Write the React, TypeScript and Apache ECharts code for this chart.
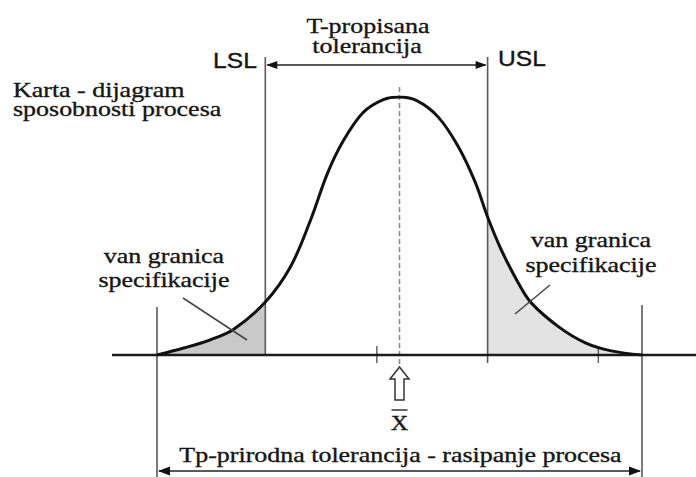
import React, { useEffect, useRef } from "react";
import * as echarts from "echarts";

// Process values in sigma units (mean = 0), relative density (peak = 1)
const curveX = [-3.0, -2.67, -2.35, -2.05, -1.66, -1.35, -1.1, -0.89, -0.69, -0.45, -0.2, 0, 0.22, 0.48, 0.73, 0.94, 1.09, 1.26, 1.47, 1.63, 1.97, 2.3, 2.62, 3.0];
const curveY = [0, 0.027, 0.058, 0.1, 0.205, 0.341, 0.523, 0.705, 0.833, 0.94, 0.99, 1.0, 0.985, 0.922, 0.806, 0.667, 0.535, 0.407, 0.279, 0.202, 0.109, 0.047, 0.016, 0];

const LSL = -1.66;
const USL = 1.09;
const MEAN = 0;
const NAT_LOW = -3;
const NAT_HIGH = 3;
const baseTicks = [-0.28, 2.46];

const titleLines = ["Karta - dijagram", "sposobnosti procesa"];
const tolLines = ["T-propisana", "tolerancija"];
const outLines = ["van granica", "specifikacije"];
const lslLabel = "LSL";
const uslLabel = "USL";
const meanLabel = "X";
const bottomLabel = "Tp-prirodna tolerancija - rasipanje procesa";

const SERIF = "'Liberation Serif', 'DejaVu Serif', serif";
const SANS = "'Liberation Sans', Arial, sans-serif";

export default function App() {
  const ref = useRef<HTMLDivElement>(null);
  useEffect(() => {
    if (!ref.current) return;
    const chart = echarts.init(ref.current, undefined, { renderer: "svg" });
    const all = curveX.map((x, i) => [x, curveY[i]]);
    const leftPart = all.filter((p) => p[0] <= LSL + 1e-9);
    const rightPart = all.filter((p) => p[0] >= USL - 1e-9);
    chart.setOption({
      animation: false,
      backgroundColor: "#ffffff",
      grid: { left: 157, right: 54, top: 97, bottom: 122 },
      xAxis: { type: "value", min: NAT_LOW, max: NAT_HIGH, show: false },
      yAxis: { type: "value", min: 0, max: 1, show: false },
      series: [
        {
          type: "line",
          data: leftPart,
          smooth: 0.35,
          symbol: "none",
          lineStyle: { width: 0 },
          areaStyle: { color: "#c9c9c9", opacity: 1 },
          z: 1,
        },
        {
          type: "line",
          data: rightPart,
          smooth: 0.35,
          symbol: "none",
          lineStyle: { width: 0 },
          areaStyle: { color: "#e3e3e3", opacity: 1 },
          z: 1,
        },
        {
          type: "line",
          data: all,
          smooth: 0.35,
          symbol: "none",
          lineStyle: { width: 3, color: "#111" },
          z: 5,
        },
      ],
    });

    const px = (x: number) => chart.convertToPixel({ xAxisIndex: 0, yAxisIndex: 0 }, [x, 0])[0];
    const y0 = chart.convertToPixel({ xAxisIndex: 0, yAxisIndex: 0 }, [0, 0])[1];
    const yPeak = chart.convertToPixel({ xAxisIndex: 0, yAxisIndex: 0 }, [0, 1])[1];
    const xL = px(LSL), xU = px(USL), xM = px(MEAN), xLo = px(NAT_LOW), xHi = px(NAT_HIGH);

    const gray = "#5a5a5a";
    const line = (x1: number, y1: number, x2: number, y2: number, stroke: string, w: number, z = 3, dash?: number[]) => ({
      type: "line",
      z,
      shape: { x1, y1, x2, y2 },
      style: { stroke, lineWidth: w, lineDash: dash },
    });
    const tri = (pts: number[][], fill: string) => ({ type: "polygon", z: 6, shape: { points: pts }, style: { fill } });
    const txt = (text: string, x: number, y: number, font: string, size: number, align: string, sx: number) => ({
      type: "text",
      z: 10,
      x,
      y,
      scaleX: sx,
      style: {
        text,
        fontFamily: font,
        fontSize: size,
        fill: "#151515",
        stroke: "#151515",
        lineWidth: 0.35,
        align,
        verticalAlign: "middle",
      },
    });

    const tY = 65;
    const bY = 471;
    const graphics: any[] = [
      // baseline
      line(112, y0, 696, y0, "#1a1a1a", 2.5, 4),
      // LSL / USL
      line(xL, 57, xL, y0 + 1, gray, 1.6),
      line(xU, 57, xU, y0 + 8, gray, 1.6),
      // T arrow
      line(xL + 2, tY, xU - 2, tY, "#222", 1.6),
      tri([[xL + 1, tY], [xL + 12, tY - 4], [xL + 12, tY + 4]], "#111"),
      tri([[xU - 1, tY], [xU - 12, tY - 4], [xU - 12, tY + 4]], "#111"),
      // natural tolerance lines
      line(xLo, 307, xLo, 477, gray, 1.6),
      line(xHi, 305, xHi, 477, gray, 1.6),
      line(xLo + 2, bY, xHi - 2, bY, "#222", 1.6),
      tri([[xLo + 1, bY], [xLo + 13, bY - 4.5], [xLo + 13, bY + 4.5]], "#111"),
      tri([[xHi - 1, bY], [xHi - 13, bY - 4.5], [xHi - 13, bY + 4.5]], "#111"),
      // mean dashed line
      line(xM, yPeak - 10, xM, y0 + 12, "#8a8a8a", 1.6, 2, [5, 3]),
      // leader lines
      line(183, 298, 247, 340, "#444", 1.5, 7),
      line(550, 285, 515, 314, "#444", 1.5, 7),
      // mean arrow
      {
        type: "polygon",
        z: 6,
        shape: { points: [[xM, 367], [xM + 9.5, 379], [xM + 4.5, 379], [xM + 4.5, 400], [xM - 4.5, 400], [xM - 4.5, 379], [xM - 9.5, 379]] },
        style: { fill: "#ffffff", stroke: "#333", lineWidth: 1.5 },
      },
      line(xM - 8, 410, xM + 8, 410, "#333", 1.5, 6),
      txt(meanLabel, xM, 422, SERIF, 22, "center", 1.1),
      txt(bottomLabel, (xLo + xHi) / 2 + 1, 455, SERIF, 22, "center", 1.18),
      txt(tolLines[0], 368, 26, SERIF, 22, "center", 1.18),
      txt(tolLines[1], 367, 46, SERIF, 22, "center", 1.18),
      txt(lslLabel, 235, 60, SANS, 22, "center", 1.12),
      txt(uslLabel, 522, 58, SANS, 22, "center", 1.12),
      txt(titleLines[0], 13, 90, SERIF, 22, "left", 1.18),
      txt(titleLines[1], 13, 109, SERIF, 22, "left", 1.18),
      txt(outLines[0], 164, 256, SERIF, 22, "center", 1.18),
      txt(outLines[1], 164, 280, SERIF, 22, "center", 1.18),
      txt(outLines[0], 591, 240, SERIF, 22, "center", 1.18),
      txt(outLines[1], 591, 265, SERIF, 22, "center", 1.18),
    ];
    baseTicks.forEach((t) => {
      const x = px(t);
      graphics.push(line(x, y0 - 9, x, y0 + 8, gray, 1.4));
    });

    chart.setOption({ graphic: graphics });
    return () => chart.dispose();
  }, []);
  return <div ref={ref} style={{ position: "fixed", left: 0, top: 0, width: 696, height: 477, background: "#fff" }} />;
}
